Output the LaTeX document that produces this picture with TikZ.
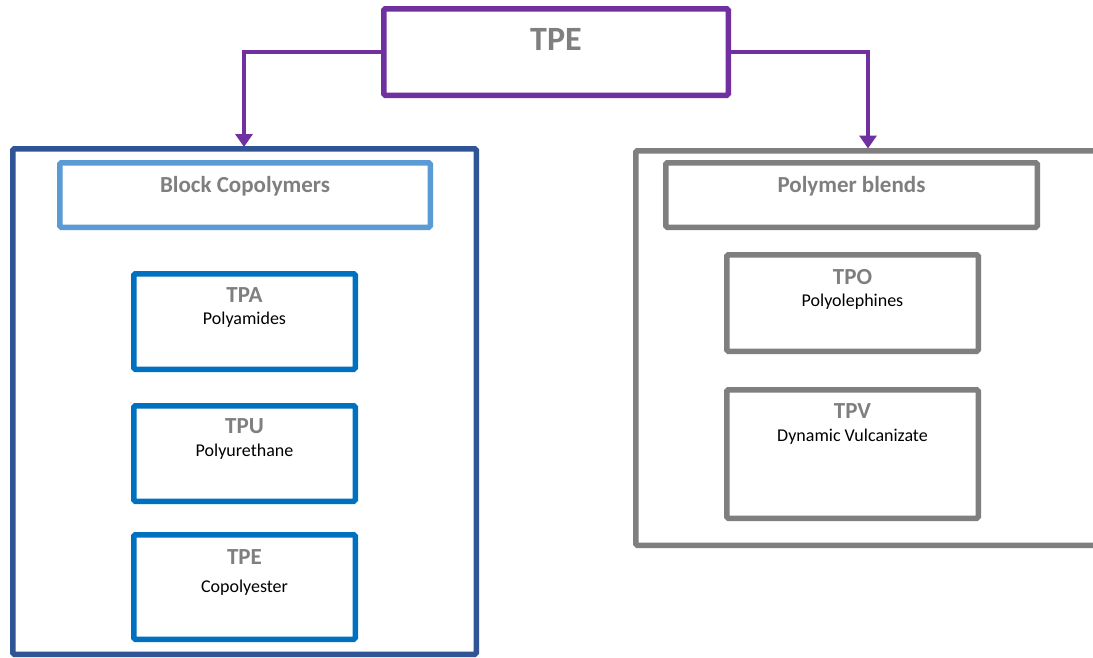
\documentclass[tikz,border=0pt]{standalone}
\usepackage{fontspec}
\setmainfont{Carlito}
\usetikzlibrary{arrows.meta}
\definecolor{tpurple}{HTML}{7030A0}
\definecolor{tgray}{HTML}{7F7F7F}
\definecolor{tdblue}{HTML}{2F5597}
\definecolor{tlblue}{HTML}{5B9BD5}
\definecolor{tmblue}{HTML}{0070C0}
\begin{document}
\begin{tikzpicture}[x=1pt,y=-1pt,
  box/.style={draw, line width=5.5pt, rounded corners=1.5pt, inner sep=0pt, fill=none},
  conn/.style={draw=tpurple, line width=4.5pt, -{Triangle[width=17pt,length=13pt]}},
  bigtitle/.style={anchor=base, text=tgray, font=\fontsize{34}{40}\selectfont\bfseries},
  subtitle/.style={anchor=base, text=tgray, font=\fontsize{23}{27}\selectfont\bfseries},
  desc/.style={anchor=base, text=black, font=\fontsize{18}{22}\selectfont}]
\useasboundingbox (0,0) rectangle (1093,657);
\fill[white] (0,0) rectangle (1093,657);
\begin{scope}
\clip (0,0) rectangle (1093,657);
% top
\node[box, draw=tpurple, minimum width=344.5pt, minimum height=86.5pt] (top) at (556,52) {};
\node[bigtitle] (toptxt) at (556,50) {TPE};
% left container
\node[box, draw=tdblue, minimum width=463.5pt, minimum height=505.5pt] (left) at (244.5,401.5) {};
\node[box, draw=tlblue, minimum width=370.5pt, minimum height=64.5pt] (block) at (245,195) {};
\node[subtitle] (blocktxt) at (245,192.3) {Block Copolymers};
\node[box, draw=tmblue, minimum width=221.5pt, minimum height=95.5pt] (tpa) at (244.5,321.5) {};
\node[subtitle] (tpat) at (244.5,302.3) {TPA};
\node[desc] (tpad) at (244.5,324.3) {Polyamides};
\node[box, draw=tmblue, minimum width=221.5pt, minimum height=95.5pt] (tpu) at (244.5,453.5) {};
\node[subtitle] (tput) at (244.5,433.3) {TPU};
\node[desc] (tpud) at (244.5,456.7) {Polyurethane};
\node[box, draw=tmblue, minimum width=221.5pt, minimum height=104.5pt] (tpe) at (244.5,587) {};
\node[subtitle] (tpet) at (244.5,564) {TPE};
\node[desc] (tped) at (244.5,592) {Copolyester};
% right container
\node[box, draw=tgray, minimum width=474.25pt, minimum height=394.5pt] (right) at (872.9,348) {};
\node[box, draw=tgray, minimum width=371.5pt, minimum height=64.5pt] (blend) at (851.5,195) {};
\node[subtitle] (blendtxt) at (851.5,192.3) {Polymer blends};
\node[box, draw=tgray, minimum width=251.5pt, minimum height=96.5pt] (tpo) at (852.5,303) {};
\node[subtitle] (tpot) at (852.5,284.3) {TPO};
\node[desc] (tpod) at (852.5,306.7) {Polyolephines};
\node[box, draw=tgray, minimum width=251.5pt, minimum height=128.5pt] (tpv) at (852.5,454) {};
\node[subtitle] (tpvt) at (852.5,418.3) {TPV};
\node[desc] (tpvd) at (852.5,441.7) {Dynamic Vulcanizate};
% connectors
\coordinate (ltip) at (244,147);
\coordinate (rtip) at (868,148.5);
\draw[conn] (top.west) -| (ltip);
\draw[conn] (top.east) -| (rtip);
\end{scope}
\end{tikzpicture}
\end{document}
